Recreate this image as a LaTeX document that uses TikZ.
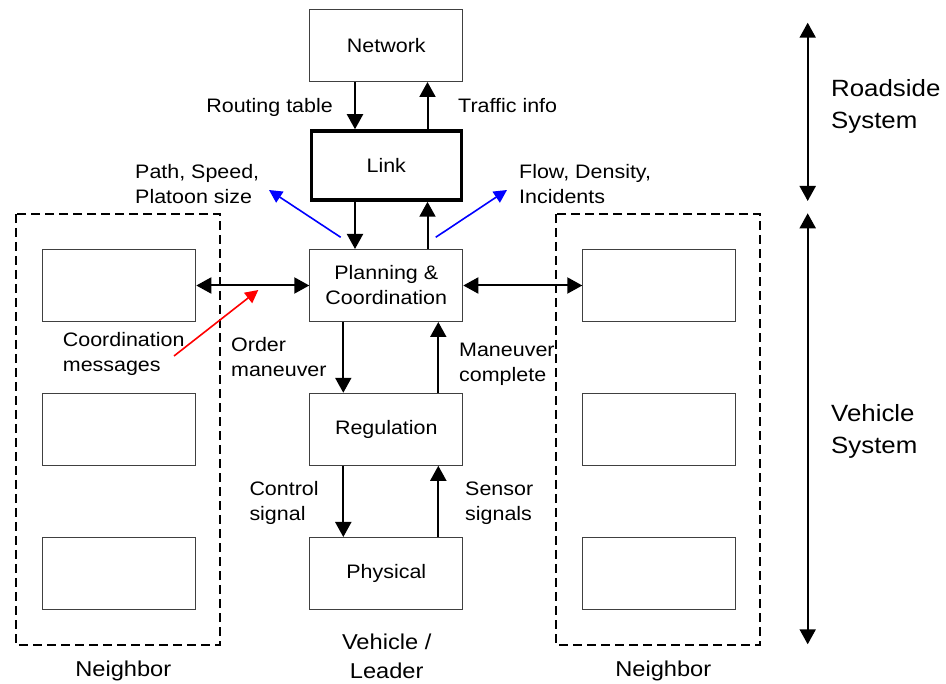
\documentclass[tikz,border=0pt]{standalone}
\usepackage{fontspec}
\setmainfont[FakeStretch=1.1]{Liberation Sans}
\usetikzlibrary{arrows.meta,calc}
\begin{document}
\begin{tikzpicture}[x=1pt,y=-1pt,
  box/.style={draw=black!75,line width=1pt,fill=white,minimum width=153pt,minimum height=72pt,inner sep=0pt,align=center,font=\lbl},
  thickbox/.style={box,draw=black,line width=3.5pt,minimum width=150pt,minimum height=69pt},
  grp/.style={draw=black,line width=1.6pt,dash pattern=on 9pt off 5pt},
  arr/.style={draw=black,line width=2pt,-{Triangle[length=15pt,width=16pt]}},
  darr/.style={draw=black,line width=2pt,{Triangle[length=15pt,width=16pt]}-{Triangle[length=15pt,width=16pt]}},
  barr/.style={draw=blue,line width=1.6pt,-{Triangle[length=13pt,width=13pt]}},
  rarr/.style={draw=red,line width=1.6pt,-{Triangle[length=13pt,width=13pt]}},
  lab/.style={inner sep=0pt,font=\lbl,align=left},
  blab/.style={inner sep=0pt,font=\blbl,align=center},
  sysl/.style={inner sep=0pt,font=\slbl,align=left}
]
\newcommand{\lbl}{\fontsize{19.5}{25}\selectfont}
\newcommand{\blbl}{\fontsize{21.5}{29}\selectfont}
\newcommand{\slbl}{\fontsize{23.5}{32}\selectfont}
\useasboundingbox (0,0) rectangle (946,684);

% group boxes
\draw[grp] (16,214) rectangle (220,645);
\draw[grp] (556,214) rectangle (760,645);

% main column
\node[box] (net) at (386.3,45.5) {Network};
\node[thickbox] (link) at (386.3,165.5) {Link};
\node[box] (plan) at (386.3,285.5) {Planning \&\\Coordination};
\node[box] (reg) at (386.3,429.3) {Regulation};
\node[box] (phys) at (386.3,573.5) {Physical};

% neighbor boxes
\node[box] (l1) at (119.3,285.5) {};
\node[box] (l2) at (119.3,429.3) {};
\node[box] (l3) at (119.3,573.5) {};
\node[box] (r1) at (659.3,285.5) {};
\node[box] (r2) at (659.3,429.3) {};
\node[box] (r3) at (659.3,573.5) {};

% arrow x positions
\coordinate (xa) at (355,0);
\coordinate (xb) at (427.5,0);
\coordinate (xc) at (343.3,0);
\coordinate (xd) at (438.3,0);

\draw[arr] (net.south -| xa) -- (link.north -| xa);
\draw[arr] (link.north -| xb) -- (net.south -| xb);
\draw[arr] (link.south -| xa) -- (plan.north -| xa);
\draw[arr] (plan.north -| xb) -- (link.south -| xb);
\draw[arr] (plan.south -| xc) -- (reg.north -| xc);
\draw[arr] (reg.north -| xd) -- (plan.south -| xd);
\draw[arr] (reg.south -| xc) -- (phys.north -| xc);
\draw[arr] (phys.north -| xd) -- (reg.south -| xd);

\draw[darr] (l1.east) -- (plan.west);
\draw[darr] (plan.east) -- (r1.west);

% blue and red arrows
\coordinate (b1s) at (340.7,237.3);
\coordinate (b1e) at (269,190);
\coordinate (b2s) at (435.7,237.3);
\coordinate (b2e) at (507,190);
\coordinate (rs) at (174,356);
\coordinate (re) at (258.3,290);
\draw[barr] (b1s) -- (b1e);
\draw[barr] (b2s) -- (b2e);
\draw[rarr] (rs) -- (re);

% system arrows
\coordinate (s1t) at (807.7,22.7);
\coordinate (s1b) at (807.7,201);
\coordinate (s2t) at (807.7,213.3);
\coordinate (s2b) at (807.7,644.3);
\draw[darr] (s1t) -- (s1b);
\draw[darr] (s2t) -- (s2b);

% labels
\node[lab,anchor=base east] (t1) at (333,112.3) {Routing table};
\node[lab,anchor=base west] (t2) at (458,112.3) {Traffic info};
\node[lab,anchor=north west] (t3) at (135,164) {Path, Speed,\\Platoon size};
\node[lab,anchor=north west] (t4) at (519,164) {Flow, Density,\\Incidents};
\node[lab,anchor=north west] (t5) at (62.7,331.8) {Coordination\\messages};
\node[lab,anchor=north west] (t6) at (231,337.5) {Order\\maneuver};
\node[lab,anchor=north west] (t7) at (459,342.5) {Maneuver\\complete};
\node[lab,anchor=north west] (t8) at (249.3,481.5) {Control\\signal};
\node[lab,anchor=north west] (t9) at (465,481.5) {Sensor\\signals};
\node[blab,anchor=north] (t10) at (386.7,633.7) {Vehicle /\\Leader};
\node[blab,anchor=base] (t11) at (123.3,676) {Neighbor};
\node[blab,anchor=base] (t12) at (663.3,676) {Neighbor};
\node[sysl,anchor=north west] (t13) at (831,79.5) {Roadside\\System};
\node[sysl,anchor=north west] (t14) at (831,404.5) {Vehicle\\System};
\end{tikzpicture}
\end{document}
